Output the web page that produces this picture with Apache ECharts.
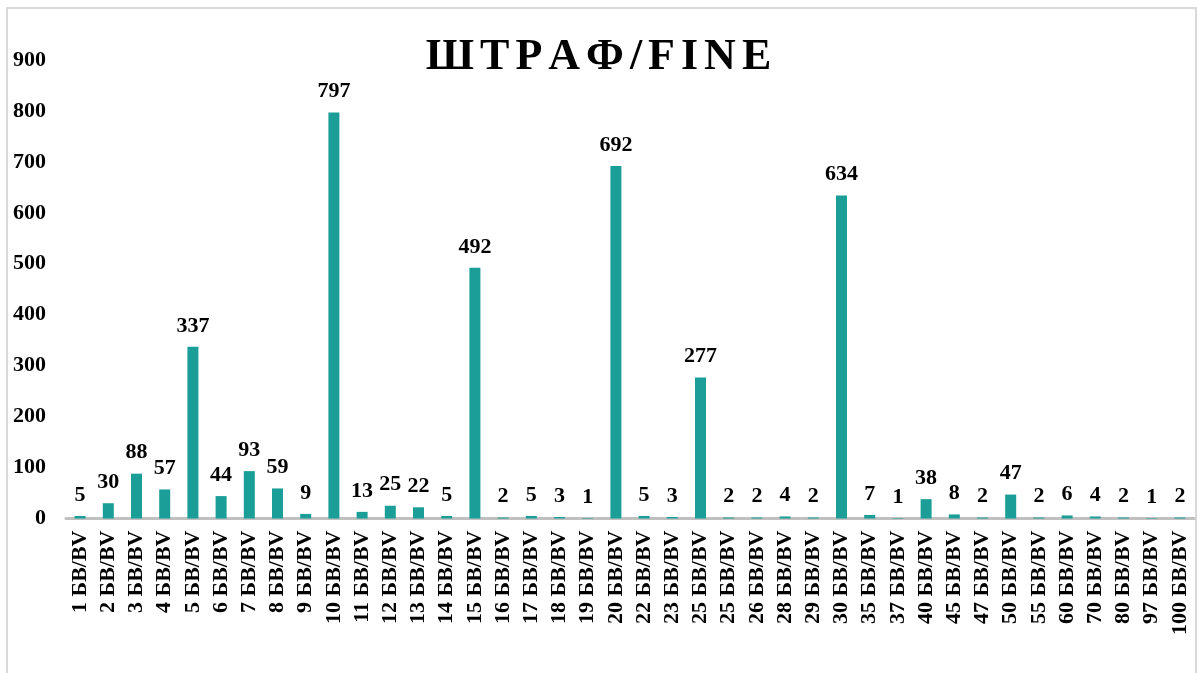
<!DOCTYPE html>
<html>
<head>
<meta charset="utf-8">
<script src="https://cdn.jsdelivr.net/npm/echarts@6/dist/echarts.min.js"></script>
<style>
html,body{margin:0;padding:0;background:#fff;}
#chart{width:1197px;height:673px;}
</style>
</head>
<body>
<div id="chart"></div>
<script>
const titleText = 'ШТРАФ/FINE';
const categories = ['1 БВ/BV','2 БВ/BV','3 БВ/BV','4 БВ/BV','5 БВ/BV','6 БВ/BV','7 БВ/BV','8 БВ/BV','9 БВ/BV','10 БВ/BV',
  '11 БВ/BV','12 БВ/BV','13 БВ/BV','14 БВ/BV','15 БВ/BV','16 БВ/BV','17 БВ/BV','18 БВ/BV','19 БВ/BV','20 БВ/BV',
  '22 БВ/BV','23 БВ/BV','25 БВ/BV','25 БВ/BV ','26 БВ/BV','28 БВ/BV','29 БВ/BV','30 БВ/BV','35 БВ/BV','37 БВ/BV',
  '40 БВ/BV','45 БВ/BV','47 БВ/BV','50 БВ/BV','55 БВ/BV','60 БВ/BV','70 БВ/BV','80 БВ/BV','97 БВ/BV','100 БВ/BV'];
const values = [5,30,88,57,337,44,93,59,9,797,
  13,25,22,5,492,2,5,3,1,692,
  5,3,277,2,2,4,2,634,7,1,
  38,8,2,47,2,6,4,2,1,2];
const yTicks = [0,100,200,300,400,500,600,700,800,900];

const FONT = '"Liberation Serif","Times New Roman",serif';
const chart = echarts.init(document.getElementById('chart'), null, {renderer:'canvas'});
const titleRich = titleText.split('').map(c => '{c|' + c + '}').join('');
chart.setOption({
  backgroundColor:'#fff',
  animation:false,
  graphic:[{
    type:'rect', shape:{x:7,y:8,width:1189,height:700},
    style:{fill:'none',stroke:'#d9d9d9',lineWidth:2}, silent:true, z:-1
  }],
  title:{
    text:titleRich, left:'center', top:31,
    textStyle:{
      rich:{c:{fontFamily:FONT,fontWeight:'bold',fontSize:44,color:'#000',padding:[0,3]}}
    }
  },
  grid:{left:66,right:3,top:60,bottom:154.5,containLabel:false},
  xAxis:{
    type:'category', data:categories,
    axisLine:{show:true,lineStyle:{color:'#c0c0c0',width:3}},
    axisTick:{show:false},
    axisLabel:{interval:0,rotate:90,margin:12,color:'#000',fontFamily:FONT,fontWeight:'bold',fontSize:22,
      formatter:v=>v.trim()}
  },
  yAxis:{
    type:'value', min:yTicks[0], max:yTicks[yTicks.length-1], interval:100,
    axisLine:{show:false}, axisTick:{show:false}, splitLine:{show:false},
    axisLabel:{margin:20,color:'#000',fontFamily:FONT,fontWeight:'bold',fontSize:22}
  },
  series:[{
    type:'bar', data:values, barWidth:11,
    itemStyle:{color:'#1b9e97'},
    label:{show:true,position:'top',distance:10,color:'#000',fontFamily:FONT,fontWeight:'bold',fontSize:22}
  }]
});
</script>
</body>
</html>
